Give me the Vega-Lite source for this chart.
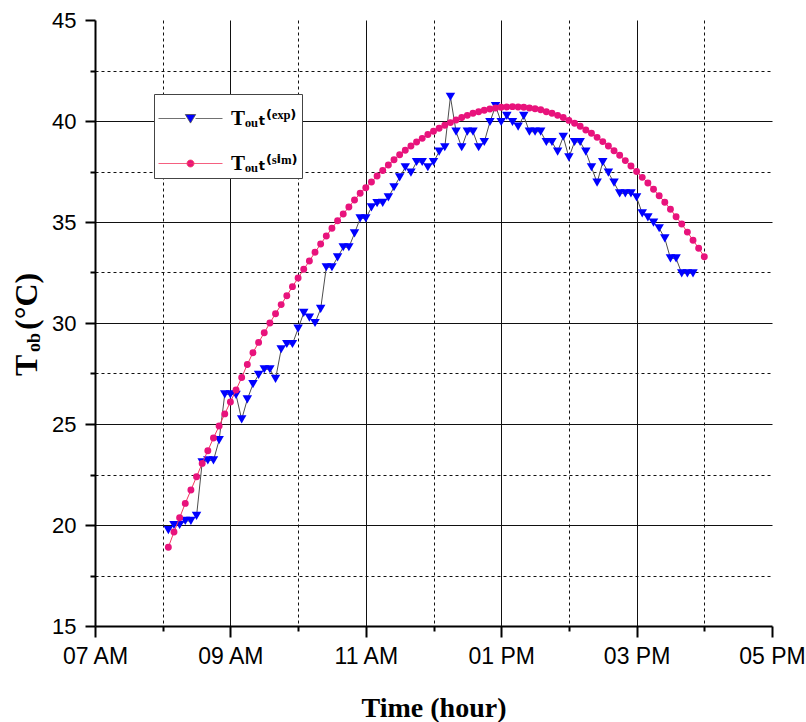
{
  "$schema": "https://vega.github.io/schema/vega-lite/v6.json",
  "width": 677,
  "height": 606,
  "autosize": {"type": "none"},
  "padding": {"left": 95, "top": 20, "right": 34, "bottom": 96},
  "background": "white",
  "config": {"view": {"stroke": null}},
  "datasets": {
    "obs": [
      {"series":"exp","time":"08:05","T":19.75},{"series":"exp","time":"08:10","T":20.0},{"series":"exp","time":"08:15","T":20.0},{"series":"exp","time":"08:20","T":20.2},{"series":"exp","time":"08:25","T":20.2},{"series":"exp","time":"08:30","T":20.45},{"series":"exp","time":"08:35","T":23.1},{"series":"exp","time":"08:40","T":23.2},{"series":"exp","time":"08:45","T":23.2},{"series":"exp","time":"08:50","T":24.2},{"series":"exp","time":"08:55","T":26.47},{"series":"exp","time":"09:00","T":26.47},{"series":"exp","time":"09:05","T":26.44},{"series":"exp","time":"09:10","T":25.23},{"series":"exp","time":"09:15","T":26.22},{"series":"exp","time":"09:20","T":26.97},{"series":"exp","time":"09:25","T":27.43},{"series":"exp","time":"09:30","T":27.71},{"series":"exp","time":"09:35","T":27.71},{"series":"exp","time":"09:40","T":27.23},{"series":"exp","time":"09:45","T":28.7},{"series":"exp","time":"09:50","T":28.96},{"series":"exp","time":"09:55","T":28.96},{"series":"exp","time":"10:00","T":29.72},{"series":"exp","time":"10:05","T":30.5},{"series":"exp","time":"10:10","T":30.27},{"series":"exp","time":"10:15","T":30.0},{"series":"exp","time":"10:20","T":30.7},{"series":"exp","time":"10:25","T":32.76},{"series":"exp","time":"10:30","T":32.76},{"series":"exp","time":"10:35","T":33.25},{"series":"exp","time":"10:40","T":33.75},{"series":"exp","time":"10:45","T":33.75},{"series":"exp","time":"10:50","T":34.44},{"series":"exp","time":"10:55","T":35.18},{"series":"exp","time":"11:00","T":35.18},{"series":"exp","time":"11:05","T":35.72},{"series":"exp","time":"11:10","T":35.93},{"series":"exp","time":"11:15","T":35.95},{"series":"exp","time":"11:20","T":36.22},{"series":"exp","time":"11:25","T":36.72},{"series":"exp","time":"11:30","T":37.21},{"series":"exp","time":"11:35","T":37.71},{"series":"exp","time":"11:40","T":37.44},{"series":"exp","time":"11:45","T":37.97},{"series":"exp","time":"11:50","T":37.97},{"series":"exp","time":"11:55","T":37.71},{"series":"exp","time":"12:00","T":37.97},{"series":"exp","time":"12:05","T":38.48},{"series":"exp","time":"12:10","T":38.7},{"series":"exp","time":"12:15","T":41.2},{"series":"exp","time":"12:20","T":39.47},{"series":"exp","time":"12:25","T":38.7},{"series":"exp","time":"12:30","T":39.47},{"series":"exp","time":"12:35","T":39.47},{"series":"exp","time":"12:40","T":38.7},{"series":"exp","time":"12:45","T":38.96},{"series":"exp","time":"12:50","T":39.95},{"series":"exp","time":"12:55","T":40.74},{"series":"exp","time":"13:00","T":39.95},{"series":"exp","time":"13:05","T":40.25},{"series":"exp","time":"13:10","T":39.95},{"series":"exp","time":"13:15","T":39.72},{"series":"exp","time":"13:20","T":40.25},{"series":"exp","time":"13:25","T":39.47},{"series":"exp","time":"13:30","T":39.47},{"series":"exp","time":"13:35","T":39.47},{"series":"exp","time":"13:40","T":38.96},{"series":"exp","time":"13:45","T":38.96},{"series":"exp","time":"13:50","T":38.48},{"series":"exp","time":"13:55","T":39.22},{"series":"exp","time":"14:00","T":38.2},{"series":"exp","time":"14:05","T":38.96},{"series":"exp","time":"14:10","T":38.96},{"series":"exp","time":"14:15","T":38.48},{"series":"exp","time":"14:20","T":37.71},{"series":"exp","time":"14:25","T":36.95},{"series":"exp","time":"14:30","T":37.96},{"series":"exp","time":"14:35","T":37.44},{"series":"exp","time":"14:40","T":36.95},{"series":"exp","time":"14:45","T":36.42},{"series":"exp","time":"14:50","T":36.42},{"series":"exp","time":"14:55","T":36.42},{"series":"exp","time":"15:00","T":36.22},{"series":"exp","time":"15:05","T":35.43},{"series":"exp","time":"15:10","T":35.23},{"series":"exp","time":"15:15","T":34.97},{"series":"exp","time":"15:20","T":34.69},{"series":"exp","time":"15:25","T":34.19},{"series":"exp","time":"15:30","T":33.2},{"series":"exp","time":"15:35","T":33.2},{"series":"exp","time":"15:40","T":32.46},{"series":"exp","time":"15:45","T":32.46},{"series":"exp","time":"15:50","T":32.46},
      {"series":"sim","time":"08:05","T":18.9},{"series":"sim","time":"08:10","T":19.65},{"series":"sim","time":"08:15","T":20.36},{"series":"sim","time":"08:20","T":21.07},{"series":"sim","time":"08:25","T":21.73},{"series":"sim","time":"08:30","T":22.39},{"series":"sim","time":"08:35","T":23.05},{"series":"sim","time":"08:40","T":23.68},{"series":"sim","time":"08:45","T":24.31},{"series":"sim","time":"08:50","T":24.9},{"series":"sim","time":"08:55","T":25.5},{"series":"sim","time":"09:00","T":26.09},{"series":"sim","time":"09:05","T":26.68},{"series":"sim","time":"09:10","T":27.3},{"series":"sim","time":"09:15","T":27.95},{"series":"sim","time":"09:20","T":28.53},{"series":"sim","time":"09:25","T":29.04},{"series":"sim","time":"09:30","T":29.52},{"series":"sim","time":"09:35","T":30.0},{"series":"sim","time":"09:40","T":30.46},{"series":"sim","time":"09:45","T":30.91},{"series":"sim","time":"09:50","T":31.35},{"series":"sim","time":"09:55","T":31.8},{"series":"sim","time":"10:00","T":32.23},{"series":"sim","time":"10:05","T":32.66},{"series":"sim","time":"10:10","T":33.07},{"series":"sim","time":"10:15","T":33.5},{"series":"sim","time":"10:20","T":33.91},{"series":"sim","time":"10:25","T":34.31},{"series":"sim","time":"10:30","T":34.69},{"series":"sim","time":"10:35","T":35.06},{"series":"sim","time":"10:40","T":35.4},{"series":"sim","time":"10:45","T":35.74},{"series":"sim","time":"10:50","T":36.09},{"series":"sim","time":"10:55","T":36.42},{"series":"sim","time":"11:00","T":36.7},{"series":"sim","time":"11:05","T":36.98},{"series":"sim","time":"11:10","T":37.28},{"series":"sim","time":"11:15","T":37.55},{"series":"sim","time":"11:20","T":37.82},{"series":"sim","time":"11:25","T":38.08},{"series":"sim","time":"11:30","T":38.33},{"series":"sim","time":"11:35","T":38.55},{"series":"sim","time":"11:40","T":38.76},{"series":"sim","time":"11:45","T":38.96},{"series":"sim","time":"11:50","T":39.14},{"series":"sim","time":"11:55","T":39.33},{"series":"sim","time":"12:00","T":39.49},{"series":"sim","time":"12:05","T":39.64},{"series":"sim","time":"12:10","T":39.79},{"series":"sim","time":"12:15","T":39.92},{"series":"sim","time":"12:20","T":40.05},{"series":"sim","time":"12:25","T":40.17},{"series":"sim","time":"12:30","T":40.28},{"series":"sim","time":"12:35","T":40.38},{"series":"sim","time":"12:40","T":40.46},{"series":"sim","time":"12:45","T":40.53},{"series":"sim","time":"12:50","T":40.59},{"series":"sim","time":"12:55","T":40.64},{"series":"sim","time":"13:00","T":40.68},{"series":"sim","time":"13:05","T":40.69},{"series":"sim","time":"13:10","T":40.71},{"series":"sim","time":"13:15","T":40.69},{"series":"sim","time":"13:20","T":40.68},{"series":"sim","time":"13:25","T":40.64},{"series":"sim","time":"13:30","T":40.61},{"series":"sim","time":"13:35","T":40.56},{"series":"sim","time":"13:40","T":40.46},{"series":"sim","time":"13:45","T":40.38},{"series":"sim","time":"13:50","T":40.28},{"series":"sim","time":"13:55","T":40.17},{"series":"sim","time":"14:00","T":40.03},{"series":"sim","time":"14:05","T":39.89},{"series":"sim","time":"14:10","T":39.74},{"series":"sim","time":"14:15","T":39.55},{"series":"sim","time":"14:20","T":39.39},{"series":"sim","time":"14:25","T":39.19},{"series":"sim","time":"14:30","T":38.98},{"series":"sim","time":"14:35","T":38.76},{"series":"sim","time":"14:40","T":38.53},{"series":"sim","time":"14:45","T":38.3},{"series":"sim","time":"14:50","T":38.04},{"series":"sim","time":"14:55","T":37.77},{"series":"sim","time":"15:00","T":37.5},{"series":"sim","time":"15:05","T":37.21},{"series":"sim","time":"15:10","T":36.93},{"series":"sim","time":"15:15","T":36.62},{"series":"sim","time":"15:20","T":36.3},{"series":"sim","time":"15:25","T":35.98},{"series":"sim","time":"15:30","T":35.63},{"series":"sim","time":"15:35","T":35.26},{"series":"sim","time":"15:40","T":34.9},{"series":"sim","time":"15:45","T":34.5},{"series":"sim","time":"15:50","T":34.1},{"series":"sim","time":"15:55","T":33.7},{"series":"sim","time":"16:00","T":33.28}
    ],
    "ytitle": [
      {"part": "T", "time": "06:08:36", "T": 27.376},
      {"part": "ob", "time": "06:11:15", "T": 28.564},
      {"part": "(°C)", "time": "06:08:36", "T": 29.653}
    ]
  },
  "data": {"name": "obs", "format": {"parse": {"time": "date:'%H:%M'"}}},
  "encoding": {
    "x": {
      "field": "time",
      "type": "temporal",
      "scale": {"domain": [{"year": 1900, "month": 1, "date": 1, "hours": 7}, {"year": 1900, "month": 1, "date": 1, "hours": 17}]},
      "axis": {
        "values": [
          {"year": 1900, "month": 1, "date": 1, "hours": 7},
          {"year": 1900, "month": 1, "date": 1, "hours": 8},
          {"year": 1900, "month": 1, "date": 1, "hours": 9},
          {"year": 1900, "month": 1, "date": 1, "hours": 10},
          {"year": 1900, "month": 1, "date": 1, "hours": 11},
          {"year": 1900, "month": 1, "date": 1, "hours": 12},
          {"year": 1900, "month": 1, "date": 1, "hours": 13},
          {"year": 1900, "month": 1, "date": 1, "hours": 14},
          {"year": 1900, "month": 1, "date": 1, "hours": 15},
          {"year": 1900, "month": 1, "date": 1, "hours": 16},
          {"year": 1900, "month": 1, "date": 1, "hours": 17}
        ],
        "format": "%I %p",
        "labelExpr": "hours(datum.value) % 2 == 1 ? datum.label : ''",
        "labelFont": "Liberation Sans",
        "labelFontSize": 23,
        "labelColor": "black",
        "labelPadding": 8,
        "labelFlush": false,
        "labelOverlap": false,
        "tickColor": "black",
        "tickWidth": 2,
        "tickSize": {"condition": {"test": "hours(datum.value) % 2 == 0", "value": 5}, "value": 11},
        "domainColor": "black",
        "domainWidth": 2,
        "grid": true,
        "gridColor": "#111111",
        "gridWidth": 1,
        "gridDash": {"condition": {"test": "hours(datum.value) % 2 == 0", "value": [3, 3]}, "value": []},
        "gridOpacity": {"condition": {"test": "hours(datum.value) == 17 || hours(datum.value) == 7", "value": 0}, "value": 1},
        "title": "Time (hour)",
        "titleFont": "Liberation Serif",
        "titleFontSize": 28,
        "titleFontWeight": "bold",
        "titleColor": "black",
        "titleBaseline": "alphabetic",
        "titleY": 90
      }
    },
    "y": {
      "field": "T",
      "type": "quantitative",
      "scale": {"domain": [15, 45], "nice": false, "zero": false},
      "axis": {
        "values": [15, 17.5, 20, 22.5, 25, 27.5, 30, 32.5, 35, 37.5, 40, 42.5, 45],
        "labelExpr": "datum.value % 5 == 0 ? datum.label : ''",
        "labelFont": "Liberation Sans",
        "labelFontSize": 22,
        "labelColor": "black",
        "labelPadding": 9,
        "labelFlush": false,
        "labelOverlap": false,
        "tickColor": "black",
        "tickWidth": 2,
        "tickSize": {"condition": {"test": "datum.value % 5 != 0", "value": 5}, "value": 10},
        "domainColor": "black",
        "domainWidth": 2,
        "grid": true,
        "gridColor": "#111111",
        "gridWidth": 1,
        "gridDash": {"condition": {"test": "datum.value % 5 != 0", "value": [3, 3]}, "value": []},
        "gridOpacity": {"condition": {"test": "datum.value == 15 || datum.value == 45", "value": 0}, "value": 1},
        "title": null
      }
    }
  },
  "layer": [
    {
      "transform": [{"filter": "datum.series == 'exp'"}],
      "mark": {"type": "line", "strokeWidth": 1},
      "encoding": {
        "color": {
          "field": "series",
          "type": "nominal",
          "scale": {"domain": ["exp", "sim"], "range": ["#4d4d4d", "#F2375F"]},
          "legend": {
            "orient": "none",
            "legendX": 59,
            "legendY": 74,
            "title": null,
            "padding": 4,
            "symbolSize": 1600,
            "rowPadding": 14,
            "labelOffset": 32,
            "labelFont": "Liberation Serif, DejaVu Sans",
            "labelFontSize": 21,
            "labelFontWeight": "bold",
            "labelColor": "black",
            "labelLimit": 0,
            "fillColor": "white",
            "strokeColor": "#444444",
            "labelExpr": "datum.value == 'exp' ? 'Tₒᵤₜ⁽ᵉˣᵖ⁾ ' : 'Tₒᵤₜ⁽ˢⁱᵐ⁾ '",
            "encode": {
              "symbols": {
                "update": {
                  "shape": {"signal": "datum.value == 'exp' ? 'M-1,0L0.35,0M0.85,0L2.2,0M0.34,-0.2L0.86,-0.2L0.6,0.23Z' : 'M-1,0L2.2,0M0.775,0A0.175,0.175 0 1,1 0.425,0A0.175,0.175 0 1,1 0.775,0Z'"},
                  "fill": {"signal": "datum.value == 'exp' ? '#0000FF' : '#E8137C'"},
                  "stroke": {"signal": "datum.value == 'exp' ? '#555555' : '#F2375F'"},
                  "strokeWidth": {"value": 0.8},
                  "opacity": {"value": 1}
                }
              }
            }
          }
        }
      }
    },
    {
      "transform": [{"filter": "datum.series == 'exp'"}],
      "mark": {"type": "point", "shape": "triangle-down", "filled": true, "color": "#0000FF", "size": 90, "opacity": 1, "strokeWidth": 0}
    },
    {
      "transform": [{"filter": "datum.series == 'sim'"}],
      "mark": {"type": "line", "strokeWidth": 1},
      "encoding": {
        "color": {"field": "series", "type": "nominal"}
      }
    },
    {
      "transform": [{"filter": "datum.series == 'sim'"}],
      "mark": {"type": "point", "shape": "circle", "filled": true, "color": "#E8137C", "size": 48, "opacity": 1, "strokeWidth": 0}
    },
    {
      "data": {"name": "ytitle", "format": {"parse": {"time": "date:'%H:%M:%S'"}}},
      "mark": {"type": "text", "angle": 270, "align": "left", "baseline": "alphabetic", "font": "Liberation Serif", "fontWeight": "bold", "color": "black"},
      "encoding": {
        "text": {"field": "part"},
        "size": {"condition": {"test": "datum.part == 'ob'", "value": 18}, "value": 32}
      }
    }
  ]
}
